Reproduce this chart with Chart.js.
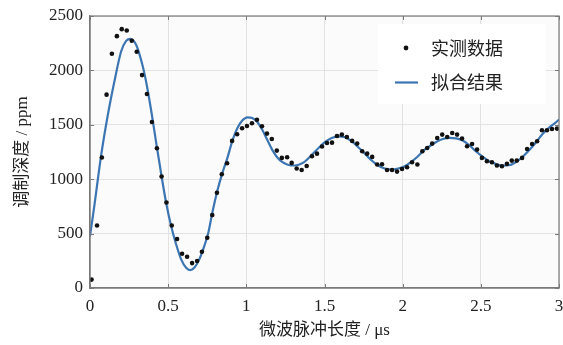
<!DOCTYPE html>
<html>
<head>
<meta charset="utf-8">
<script src="https://cdn.jsdelivr.net/npm/chart.js@4.4.1/dist/chart.umd.min.js"></script>
<style>
  html, body { margin: 0; padding: 0; background: #fff; }
  #wrap { width: 563px; height: 345px; position: relative; }
</style>
</head>
<body>
<div id="wrap"><canvas id="c" width="563" height="345"></canvas></div>
<script>
// measured points (us, ppm)
const measuredX = [0.01, 0.045, 0.076, 0.106, 0.14, 0.172, 0.203, 0.235, 0.267, 0.299,
  0.333, 0.364, 0.396, 0.428, 0.458, 0.489, 0.523, 0.557, 0.589, 0.621,
  0.653, 0.685, 0.716, 0.75, 0.782, 0.812, 0.843, 0.877, 0.909, 0.941,
  0.973, 1.004, 1.036, 1.068, 1.1, 1.132, 1.163, 1.195, 1.227, 1.261,
  1.29, 1.322, 1.354, 1.386, 1.42, 1.452, 1.484, 1.516, 1.548, 1.58,
  1.611, 1.643, 1.677, 1.709, 1.741, 1.773, 1.805, 1.837, 1.868, 1.9,
  1.932, 1.964, 1.996, 2.028, 2.06, 2.094, 2.126, 2.157, 2.189, 2.221,
  2.253, 2.285, 2.317, 2.348, 2.38, 2.412, 2.444, 2.476, 2.507, 2.539,
  2.571, 2.603, 2.635, 2.667, 2.698, 2.73, 2.764, 2.796, 2.828, 2.86,
  2.891, 2.923, 2.955, 2.987];
const measuredY = [77, 575, 1199, 1777, 2153, 2315, 2379, 2367, 2272, 2171,
  1957, 1783, 1526, 1284, 1025, 786, 575, 450, 315, 287,
  229, 248, 333, 462, 670, 875, 1046, 1147, 1352, 1413,
  1468, 1489, 1514, 1547, 1486, 1419, 1370, 1263, 1196, 1202,
  1150, 1098, 1085, 1122, 1211, 1235, 1300, 1333, 1336, 1397,
  1410, 1388, 1352, 1327, 1257, 1235, 1205, 1135, 1138, 1085,
  1085, 1070, 1094, 1110, 1156, 1135, 1257, 1287, 1327, 1379,
  1410, 1388, 1425, 1410, 1373, 1303, 1324, 1272, 1196, 1165,
  1156, 1126, 1119, 1141, 1171, 1171, 1196, 1278, 1324, 1349,
  1450, 1450, 1462, 1465];

// fitted curve
const fitX = [0, 0.023, 0.072, 0.114, 0.157, 0.199, 0.231, 0.259, 0.295, 0.337,
  0.365, 0.396, 0.424, 0.456, 0.487, 0.519, 0.551, 0.583, 0.615, 0.64,
  0.667, 0.699, 0.731, 0.758, 0.782, 0.815, 0.847, 0.879, 0.911, 0.943,
  0.974, 1.006, 1.038, 1.07, 1.101, 1.133, 1.165, 1.197, 1.229, 1.261,
  1.29, 1.322, 1.354, 1.377, 1.42, 1.462, 1.504, 1.546, 1.589, 1.631,
  1.673, 1.716, 1.758, 1.8, 1.843, 1.885, 1.928, 1.971, 2.013, 2.055,
  2.098, 2.14, 2.172, 2.214, 2.257, 2.299, 2.341, 2.384, 2.426, 2.468,
  2.511, 2.553, 2.595, 2.638, 2.68, 2.722, 2.765, 2.807, 2.849, 2.892,
  2.934, 2.976, 3.0];
const fitY = [477, 706, 1226, 1590, 1905, 2174, 2272, 2290, 2236, 2040,
  1850, 1590, 1330, 1043, 783, 569, 401, 263, 186, 165,
  186, 263, 385, 515, 690, 896, 1058, 1196, 1355, 1471,
  1539, 1569, 1562, 1526, 1456, 1364, 1272, 1202, 1159, 1135,
  1126, 1128, 1145, 1165, 1226, 1287, 1342, 1379, 1394, 1385,
  1349, 1294, 1235, 1174, 1126, 1098, 1089, 1098, 1119, 1159,
  1211, 1272, 1303, 1342, 1370, 1379, 1376, 1355, 1312, 1257,
  1208, 1165, 1141, 1126, 1128, 1156, 1202, 1263, 1333, 1410,
  1471, 1517, 1548];

const xTicks = [0, 0.5, 1, 1.5, 2, 2.5, 3];
const yTicks = [0, 500, 1000, 1500, 2000, 2500];
const legendLabels = ['实测数据', '拟合结果'];

const serif = "'Liberation Serif', 'Noto Sans CJK SC', serif";
const cjk = "'Liberation Serif', 'Noto Sans CJK SC', sans-serif";
const frameColor = '#7a7a7a';
const fitColor = '#3c76b2';

// plot background, frame with inside ticks, legend box
const framePlugin = {
  id: 'frame',
  beforeDraw(chart) {
    const { ctx, chartArea: a } = chart;
    ctx.save();
    ctx.fillStyle = '#fbfbfb';
    ctx.fillRect(a.left, a.top, a.right - a.left, a.bottom - a.top);
    ctx.restore();
  },
  afterDatasetsDraw(chart) {
    const { ctx, chartArea: a, scales } = chart;
    ctx.save();
    // legend
    ctx.fillStyle = '#ffffff';
    ctx.fillRect(378, 24, 168, 80);
    ctx.fillStyle = '#111';
    ctx.beginPath();
    ctx.arc(406, 48, 2.4, 0, Math.PI * 2);
    ctx.fill();
    ctx.strokeStyle = fitColor;
    ctx.lineWidth = 2.2;
    ctx.beginPath();
    ctx.moveTo(395, 82.5);
    ctx.lineTo(418, 82.5);
    ctx.stroke();
    ctx.fillStyle = '#222';
    ctx.font = "18px 'Noto Sans CJK SC', sans-serif";
    ctx.textBaseline = 'middle';
    ctx.fillText(legendLabels[0], 431, 48);
    ctx.fillText(legendLabels[1], 431, 82);

    // frame + ticks
    ctx.strokeStyle = frameColor;
    ctx.lineWidth = 1.2;
    ctx.strokeRect(a.left, a.top, a.right - a.left, a.bottom - a.top);
    ctx.lineWidth = 1;
    ctx.beginPath();
    xTicks.forEach(v => {
      const px = Math.round(scales.x.getPixelForValue(v)) + 0.5;
      ctx.moveTo(px, a.bottom); ctx.lineTo(px, a.bottom - 4);
      ctx.moveTo(px, a.top); ctx.lineTo(px, a.top + 4);
    });
    yTicks.forEach(v => {
      const py = Math.round(scales.y.getPixelForValue(v)) + 0.5;
      ctx.moveTo(a.left, py); ctx.lineTo(a.left + 4, py);
      ctx.moveTo(a.right, py); ctx.lineTo(a.right - 4, py);
    });
    ctx.stroke();
    ctx.restore();
  }
};

const measured = measuredX.map((x, i) => ({ x: x, y: measuredY[i] }));
const fitted = fitX.map((x, i) => ({ x: x, y: fitY[i] }));

new Chart(document.getElementById('c'), {
  type: 'scatter',
  data: {
    datasets: [
      {
        label: legendLabels[1],
        data: fitted,
        showLine: true,
        borderColor: fitColor,
        borderWidth: 2.2,
        pointRadius: 0,
        cubicInterpolationMode: 'monotone',
        order: 2
      },
      {
        label: legendLabels[0],
        data: measured,
        backgroundColor: '#111',
        borderColor: '#111',
        borderWidth: 0,
        pointRadius: 2.3,
        order: 1
      }
    ]
  },
  options: {
    responsive: false,
    animation: false,
    devicePixelRatio: 1,
    layout: { padding: { left: 0, right: 1, top: 16, bottom: 0 } },
    plugins: { legend: { display: false }, tooltip: { enabled: false } },
    scales: {
      x: {
        type: 'linear',
        min: 0, max: 3,
        afterFit(s) { s.height = 57; s.paddingLeft = 0; s.paddingRight = 0; },
        afterBuildTicks(s) { s.ticks = xTicks.map(v => ({ value: v })); },
        ticks: { color: '#222', font: { family: serif, size: 17 }, padding: 8,
          callback: v => String(v) },
        grid: { color: '#e2e2e2', drawTicks: false },
        border: { color: frameColor, width: 1.2 },
        title: { display: true, text: '微波脉冲长度 / μs', color: '#222',
          font: { family: cjk, size: 17 }, padding: { top: 0, bottom: 4 } }
      },
      y: {
        type: 'linear',
        min: 0, max: 2500,
        afterFit(s) { s.width = 90; s.paddingTop = 0; s.paddingBottom = 0; },
        afterBuildTicks(s) { s.ticks = yTicks.map(v => ({ value: v })); },
        ticks: { color: '#222', font: { family: serif, size: 17 }, padding: 7,
          callback: v => String(v) },
        grid: { color: '#e2e2e2', drawTicks: false },
        border: { color: frameColor, width: 1.2 },
        title: { display: true, text: '调制深度 / ppm', color: '#222',
          font: { family: cjk, size: 17 }, padding: { top: 12, bottom: 0 } }
      }
    }
  },
  plugins: [framePlugin]
});
</script>
</body>
</html>
